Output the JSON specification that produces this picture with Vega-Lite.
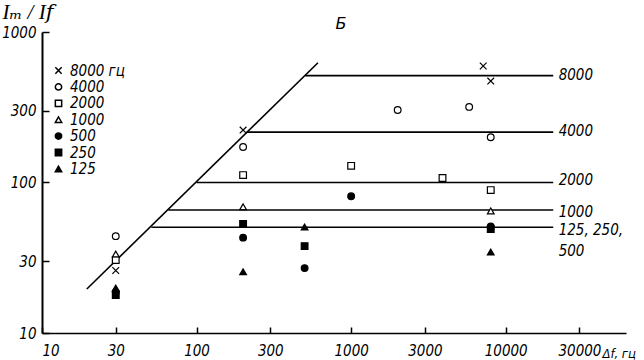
{
  "$schema": "https://vega.github.io/schema/vega-lite/v6.json",
  "width": 584,
  "height": 301,
  "autosize": {"type": "none"},
  "padding": {"left": 42, "top": 32, "right": 18, "bottom": 27},
  "background": "white",
  "title": {"text": "Б", "fontSize": 16, "fontStyle": "italic", "font": "DejaVu Sans", "fontWeight": "normal", "color": "black", "offset": -31, "dx": 7},
  "config": {
    "view": {"stroke": null},
    "axis": {"domainColor": "black", "tickColor": "black", "labelColor": "black", "titleColor": "black", "grid": false,
      "labelFont": "Liberation Sans Narrow, DejaVu Sans Condensed", "labelFontStyle": "italic", "labelFontSize": 15,
      "titleFont": "Liberation Serif, DejaVu Serif", "titleFontStyle": "italic", "titleFontWeight": "normal"}
  },
  "datasets": {
    "points": [
      {"freq": "8000", "x": 30, "y": 26}, {"freq": "8000", "x": 200, "y": 223}, {"freq": "8000", "x": 7150, "y": 594}, {"freq": "8000", "x": 8000, "y": 472},
      {"freq": "4000", "x": 30, "y": 44}, {"freq": "4000", "x": 200, "y": 172}, {"freq": "4000", "x": 2000, "y": 303}, {"freq": "4000", "x": 5800, "y": 318}, {"freq": "4000", "x": 8000, "y": 200},
      {"freq": "2000", "x": 30, "y": 30.5}, {"freq": "2000", "x": 200, "y": 112}, {"freq": "2000", "x": 1000, "y": 129}, {"freq": "2000", "x": 3900, "y": 107}, {"freq": "2000", "x": 8000, "y": 89},
      {"freq": "1000", "x": 30, "y": 33.5}, {"freq": "1000", "x": 200, "y": 69}, {"freq": "1000", "x": 8000, "y": 64.7},
      {"freq": "500", "x": 30, "y": 18.7}, {"freq": "500", "x": 200, "y": 43}, {"freq": "500", "x": 500, "y": 27}, {"freq": "500", "x": 1000, "y": 81}, {"freq": "500", "x": 8000, "y": 51},
      {"freq": "250", "x": 30, "y": 17.9}, {"freq": "250", "x": 200, "y": 53}, {"freq": "250", "x": 500, "y": 37.8}, {"freq": "250", "x": 8000, "y": 49},
      {"freq": "125", "x": 30, "y": 19.9}, {"freq": "125", "x": 200, "y": 25.5}, {"freq": "125", "x": 500, "y": 50.6}, {"freq": "125", "x": 8000, "y": 34.5}
    ],
    "lines": [
      {"seg": "diag", "x": 19.5, "y": 19.6}, {"seg": "diag", "x": 610, "y": 625},
      {"seg": "8000", "x": 504, "y": 513}, {"seg": "8000", "x": 20300, "y": 513},
      {"seg": "4000", "x": 211, "y": 216}, {"seg": "4000", "x": 20300, "y": 216},
      {"seg": "2000", "x": 100, "y": 100}, {"seg": "2000", "x": 20300, "y": 100},
      {"seg": "1000", "x": 65.6, "y": 65.6}, {"seg": "1000", "x": 20300, "y": 65.6},
      {"seg": "125", "x": 51, "y": 50.4}, {"seg": "125", "x": 20300, "y": 50.4}
    ],
    "labels": [
      {"x": 22000, "y": 517, "text": "8000"},
      {"x": 22000, "y": 219, "text": "4000"},
      {"x": 22000, "y": 104, "text": "2000"},
      {"x": 22000, "y": 63.7, "text": "1000"},
      {"x": 22000, "y": 48, "text": "125, 250,"},
      {"x": 22000, "y": 35.1, "text": "500"}
    ]
  },
  "layer": [
    {
      "data": {"name": "lines"},
      "mark": {"type": "line", "color": "black", "strokeWidth": 1.6, "clip": false},
      "encoding": {
        "x": {"field": "x", "type": "quantitative", "scale": {"type": "log", "domain": [10, 60000], "nice": false},
          "axis": {"values": [10, 30, 100, 300, 1000, 3000, 10000, 30000], "format": "d", "tickSize": -6, "labelPadding": 16, "domainWidth": 1.5, "tickWidth": 1.5,
            "title": "Δf, гц", "titleFont": "Liberation Sans Narrow, DejaVu Sans Condensed", "titleFontSize": 13, "titleAlign": "left", "titleBaseline": "middle", "titleX": 560, "titleY": 20}},
        "y": {"field": "y", "type": "quantitative", "scale": {"type": "log", "domain": [10, 1000], "nice": false},
          "axis": {"values": [10, 30, 100, 300, 1000], "format": "d", "tickSize": -7, "labelPadding": 13, "domainWidth": 2, "tickWidth": 1.5,
            "title": "Iₘ / I𝑓", "titleFontSize": 21, "titleAngle": 0, "titleAlign": "left", "titleBaseline": "middle", "titleX": -40, "titleY": -20}},
        "detail": {"field": "seg"}
      }
    },
    {
      "data": {"name": "points"},
      "mark": {"type": "point", "filled": true, "stroke": "black", "strokeWidth": 1.2, "size": 45, "opacity": 1},
      "encoding": {
        "x": {"field": "x", "type": "quantitative"},
        "y": {"field": "y", "type": "quantitative"},
        "shape": {"field": "freq", "type": "nominal",
          "scale": {"domain": ["8000", "4000", "2000", "1000", "500", "250", "125"],
            "range": ["M-1,-1L1,1M1,-1L-1,1", "circle", "square", "triangle-up", "circle", "square", "triangle-up"]},
          "legend": {"orient": "none", "legendX": 9, "legendY": 31, "title": null, "symbolSize": 40,
            "labelFont": "Liberation Sans Narrow, DejaVu Sans Condensed", "labelFontStyle": "italic", "labelFontSize": 15, "labelColor": "black", "rowPadding": 0.4, "labelOffset": 4,
            "labelExpr": "datum.label == '8000' ? '8000 гц' : datum.label",
            "encode": {"symbols": {"update": {"stroke": {"value": "black"}, "strokeWidth": {"value": 1.2}, "opacity": {"value": 1}}}}}},
        "fill": {"field": "freq", "type": "nominal",
          "scale": {"domain": ["8000", "4000", "2000", "1000", "500", "250", "125"],
            "range": ["white", "white", "white", "white", "black", "black", "black"]},
          "legend": {"orient": "none", "legendX": 9, "legendY": 31, "title": null, "symbolSize": 40,
            "labelFont": "Liberation Sans Narrow, DejaVu Sans Condensed", "labelFontStyle": "italic", "labelFontSize": 15, "labelColor": "black", "rowPadding": 0.4, "labelOffset": 4,
            "labelExpr": "datum.label == '8000' ? '8000 гц' : datum.label",
            "encode": {"symbols": {"update": {"stroke": {"value": "black"}, "strokeWidth": {"value": 1.2}, "opacity": {"value": 1}}}}}}
      }
    },
    {
      "data": {"name": "labels"},
      "mark": {"type": "text", "align": "left", "baseline": "middle", "font": "Liberation Sans Narrow, DejaVu Sans Condensed", "fontStyle": "italic", "fontSize": 15, "color": "black", "clip": false},
      "encoding": {
        "x": {"field": "x", "type": "quantitative"},
        "y": {"field": "y", "type": "quantitative"},
        "text": {"field": "text"}
      }
    }
  ]
}
